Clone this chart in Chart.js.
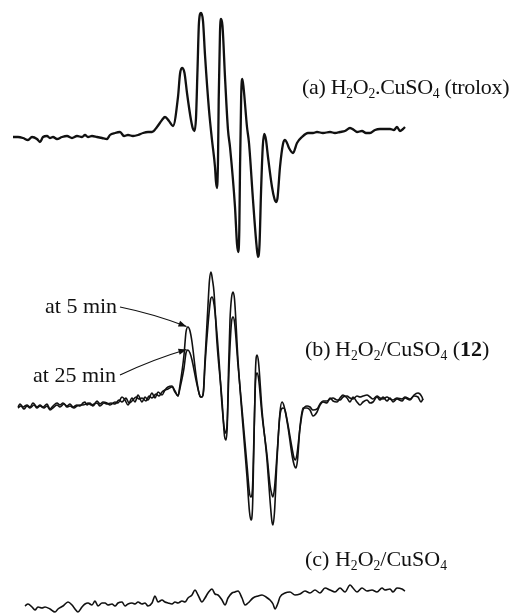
<!DOCTYPE html>
<html>
<head>
<meta charset="utf-8">
<title>EPR spectra</title>
<script src="https://cdn.jsdelivr.net/npm/chart.js@4.4.1/dist/chart.umd.min.js"></script>
<style>
    html, body { margin: 0; padding: 0; background: #ffffff; }
    #wrap { position: relative; width: 524px; height: 613px; overflow: hidden; }
    #epr-chart { position: absolute; left: 0; top: 0; }
    .lbl {
        position: absolute;
        font-family: "Liberation Serif", "DejaVu Serif", serif;
        font-size: 22px;
        line-height: 22px;
        color: #111111;
        white-space: nowrap;
    }
    .lbl sub {
        font-size: 62%;
        line-height: 0;
        vertical-align: baseline;
        position: relative;
        top: 0.32em;
    }
    .lbl b { font-weight: bold; }
</style>
</head>
<body>
<div id="wrap">
    <canvas id="epr-chart" width="524" height="613"></canvas>
    <div class="lbl" id="label-a" style="left:302px; top:76px; letter-spacing:-0.3px;">(a) H<sub>2</sub>O<sub>2</sub>.CuSO<sub>4</sub> (trolox)</div>
    <div class="lbl" id="label-b" style="left:305px; top:338px;">(b)&#8201;H<sub>2</sub>O<sub>2</sub>/CuSO<sub>4</sub> (<b>12</b>)</div>
    <div class="lbl" id="label-c" style="left:305px; top:548px;">(c) H<sub>2</sub>O<sub>2</sub>/CuSO<sub>4</sub></div>
    <div class="lbl" id="label-5" style="left:45px; top:295px;">at 5 min</div>
    <div class="lbl" id="label-25" style="left:33px; top:364px;">at 25 min</div>
</div>
<script>
// field (arbitrary units) / recorder position pairs
// (a) H2O2.CuSO4 (trolox)
const traceA = [
    [13,137],[18,137],[23,138],[28,140],[32,137],[37,139],[40,142],[43,137],[47,136],[50,138],
    [53,137],[57,139],[62,137],[67,136],[72,138],[77,136],[82,137],[85,135],[88,137],[92,136],
    [97,137],[102,138],[107,139],[110,135],[115,133],[120,132],[124,136],[128,135],[133,136],[138,135],
    [143,133],[148,132],[152,132],[157,127],[162,120],[165,117],[169,121],[173,126],[178,97],[180,74],
    [182,68],[184.5,73],[187,93],[191,120],[193,129],[194.5,131],[196,118],[197.5,70],[199,22],[201,13],
    [203,21],[205,55],[209,110],[212,140],[215,167],[216,182],[217,188],[218,160],[218.7,100],[220,32],
    [221,19],[222.5,26],[225,77],[228,130],[230,147],[235,207],[237,244],[238.3,252],[239.3,230],[240,170],
    [241.2,95],[242.3,79],[243.6,88],[247,127],[249,143],[253,200],[256.5,245],[258,257],[259.5,245],[261,193],
    [262.8,146],[264.3,134],[266,140],[268,157],[272,187],[274.5,199],[276,202],[277.5,198],[280,167],[283,144],
    [285,140],[287,143],[289,148],[293,153],[297,143],[302,137],[308,133],[313,133],[317,132],[323,133],
    [330,132],[335,133],[340,132],[345,131],[350,128],[354,130],[357,132],[362,131],[366,133],[370,133],
    [375,130],[380,129],[385,129],[390,129],[394,130],[397,127],[400,131],[403,129],[405,127]
];

// (b) H2O2/CuSO4 (12), recorded at 5 min
const traceB5 = [
    [18,407],[20,404],[23,407],[27,405],[30,407],[33,403],[37,407],[40,405],[43,407],[47,404],
    [50,409],[53,406],[57,403],[60,405],[63,403],[67,406],[70,404],[73,407],[77,405],[80,406],
    [83,403],[85,402],[87,405],[90,403],[93,406],[97,401],[100,404],[103,402],[107,403],[110,405],
    [115,402],[118,403],[122,397],[125,400],[128,405],[132,398],[135,402],[138,395],[142,402],[145,397],
    [148,400],[152,393],[155,398],[158,392],[162,395],[165,390],[168,387],[172,386],[175,391],[178,396],
    [180,385],[184,355],[186,332],[188,327],[190,331],[192,342],[196,375],[199,393],[200.5,397],[202,397],
    [203.5,390],[205,360],[208,305],[209.5,280],[211,272],[212.5,280],[214,292],[217,343],[222,400],[224.5,436],
    [226,440],[227.3,425],[228.5,370],[230,320],[231.5,298],[233,292],[234.5,299],[238,360],[243,427],[247,477],
    [249.5,512],[251,520],[252.5,508],[254,440],[255.5,370],[257,355],[258.5,362],[262,410],[267,460],[270,500],
    [272,522],[273,525],[274.5,512],[277,460],[280,412],[282,402],[284,406],[288,427],[292,455],[294.5,466],
    [296,468],[297.5,460],[300,427],[303,408],[307,408],[310,410],[313,416],[317,412],[320,405],[323,402],
    [327,403],[330,398],[333,401],[337,402],[340,398],[343,395],[347,398],[350,402],[353,397],[357,402],
    [360,405],[363,402],[367,400],[370,403],[373,402],[377,397],[380,400],[383,397],[387,401],[390,398],
    [393,402],[397,399],[402,401],[405,398],[410,400],[414,395],[418,393],[422,397],[423,400]
];

// (b) H2O2/CuSO4 (12), recorded at 25 min
const traceB25 = [
    [18,408],[21,406],[24,409],[27,406],[30,408],[34,405],[37,408],[40,406],[44,408],[47,406],
    [50,410],[54,407],[57,405],[60,407],[64,404],[67,407],[70,406],[74,408],[77,406],[80,405],
    [83,405],[86,404],[88,403],[91,405],[94,404],[97,403],[100,406],[104,403],[107,404],[111,403],
    [115,404],[119,400],[122,402],[126,398],[129,403],[132,401],[136,397],[139,399],[142,398],[146,401],
    [149,396],[152,398],[156,394],[159,396],[162,392],[165,390],[168,389],[172,387],[175,392],[178,396],
    [180,388],[184,368],[186,353],[188,350],[190,353],[192,360],[196,380],[199,393],[200.5,397],[202,397],
    [203.5,392],[205,365],[208,325],[210.5,300],[212,297],[213.5,301],[215,312],[219,360],[222,405],[224.5,430],
    [226,433],[227.3,420],[229,370],[231.5,322],[233,317],[234.5,322],[238,365],[243,420],[247,465],[249.5,493],
    [251,497],[252.5,488],[254,435],[255.5,382],[257,373],[258.5,378],[262,415],[267,455],[270,485],[272,495],
    [273,497],[274.5,488],[277,455],[280,415],[283,408],[285,410],[288,425],[292,448],[294,458],[295.5,460],
    [297,454],[300,428],[303,410],[307,406],[310,407],[313,410],[317,409],[320,404],[323,401],[327,401],
    [330,399],[333,398],[337,400],[340,400],[343,397],[347,396],[350,398],[353,399],[357,396],[360,397],
    [363,396],[367,395],[370,397],[373,399],[377,396],[380,398],[383,399],[387,397],[390,399],[393,400],
    [397,398],[402,399],[405,397],[410,399],[414,396],[418,397],[421,402],[423,399]
];

// (c) H2O2/CuSO4
const traceC = [
    [25,606],[28,604],[32,607],[35,610],[38,607],[42,608],[45,607],[50,609],[55,612],[58,609],
    [63,606],[68,602],[72,605],[75,609],[78,612],[82,607],[85,604],[88,603],[92,605],[95,601],
    [98,606],[102,603],[105,603],[108,605],[112,604],[115,606],[118,603],[122,602],[125,606],[128,604],
    [132,603],[135,604],[138,602],[142,604],[145,603],[148,606],[152,603],[155,596],[158,602],[162,600],
    [165,602],[168,603],[172,604],[175,602],[178,603],[182,601],[185,602],[188,598],[192,595],[195,590],
    [198,595],[202,602],[205,598],[208,593],[212,589],[215,594],[218,595],[222,600],[225,605],[228,598],
    [232,593],[235,592],[238,591],[242,598],[245,605],[248,603],[253,598],[258,596],[262,595],[266,597],
    [270,600],[273,604],[275,609],[278,603],[280,597],[285,593],[290,592],[295,595],[300,594],[305,591],
    [310,593],[315,590],[320,593],[325,588],[330,590],[335,592],[340,588],[345,592],[350,585],[353,588],
    [357,592],[362,588],[367,591],[372,590],[377,592],[382,588],[385,590],[390,589],[393,592],[397,588],
    [402,589],[405,591]
];

// arrows from the time labels to the first line of trace (b)
// field: field value of the peak the arrow points at
const timeArrows = [
    { dataset: 1, field: 188, tail: [120, 307] },
    { dataset: 2, field: 188, tail: [120, 375] }
];

const arrowPlugin = {
    id: 'timeArrows',
    afterDatasetsDraw(chart) {
        const ctx = chart.ctx;
        ctx.save();
        ctx.strokeStyle = '#111111';
        ctx.fillStyle = '#111111';
        ctx.lineWidth = 1.2;
        timeArrows.forEach(a => {
            const ds = chart.data.datasets[a.dataset];
            const idx = ds.data.findIndex(p => p.x === a.field);
            const el = chart.getDatasetMeta(a.dataset).data[idx];
            if (!el) return;
            const tipX = el.x - 1.5;
            const tipY = el.y - 0.5;
            const [tx, ty] = a.tail;
            // slight bow in the leader line
            const cx = (tx + tipX) / 2;
            const cy = (ty + tipY) / 2 - 3;
            ctx.beginPath();
            ctx.moveTo(tx, ty);
            ctx.quadraticCurveTo(cx, cy, tipX, tipY);
            ctx.stroke();
            const ang = Math.atan2(tipY - cy, tipX - cx);
            const len = 8, wid = 3;
            ctx.beginPath();
            ctx.moveTo(tipX, tipY);
            ctx.lineTo(tipX - len * Math.cos(ang) + wid * Math.sin(ang), tipY - len * Math.sin(ang) - wid * Math.cos(ang));
            ctx.lineTo(tipX - len * Math.cos(ang) - wid * Math.sin(ang), tipY - len * Math.sin(ang) + wid * Math.cos(ang));
            ctx.closePath();
            ctx.fill();
        });
        ctx.restore();
    }
};

function toPoints(pairs) {
    return pairs.map(p => ({ x: p[0], y: p[1] }));
}

function makeLine(label, pairs, width) {
    return {
        label: label,
        data: toPoints(pairs),
        borderColor: '#111111',
        borderWidth: width,
        fill: false,
        pointRadius: 0,
        cubicInterpolationMode: 'monotone',
        clip: false
    };
}

const canvas = document.getElementById('epr-chart');
const chart = new Chart(canvas, {
    type: 'line',
    data: {
        datasets: [
            makeLine('(a) H2O2.CuSO4 (trolox)', traceA, 2.3),
            makeLine('(b) at 5 min', traceB5, 1.6),
            makeLine('(b) at 25 min', traceB25, 1.6),
            makeLine('(c) H2O2/CuSO4', traceC, 1.6)
        ]
    },
    options: {
        responsive: false,
        animation: false,
        layout: { padding: 0 },
        plugins: {
            legend: { display: false },
            tooltip: { enabled: false }
        },
        scales: {
            x: { type: 'linear', display: false, min: 0, max: 524 },
            y: { type: 'linear', display: false, min: 0, max: 613, reverse: true }
        }
    },
    plugins: [arrowPlugin]
});
</script>
</body>
</html>
